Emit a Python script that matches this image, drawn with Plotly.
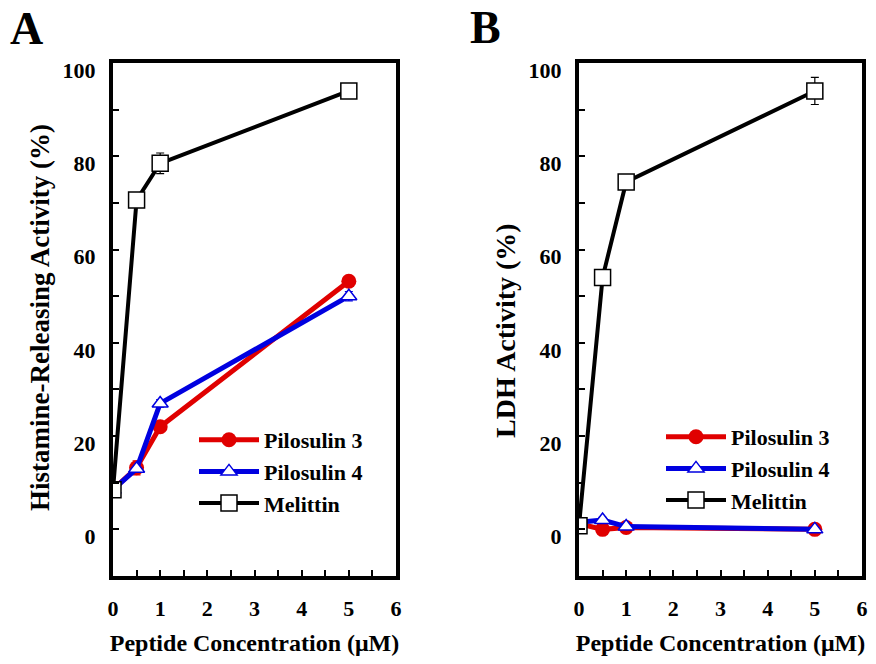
import plotly.graph_objects as go
from plotly.subplots import make_subplots

# ---- data ----
conc = [0, 0.5, 1, 5]

# Panel A: Histamine-releasing activity (%)
hist_pilo3 = [8.5, 13.2, 22.0, 53.2]
hist_pilo3_err = [0, 1.5, 0, 0]
hist_pilo4 = [8.5, 13.0, 27.0, 50.0]
hist_pilo4_err = [0, 0, 0.8, 1.0]
hist_mel = [8.5, 70.6, 78.5, 94.0]
hist_mel_err = [0, 0, 2.2, 0]

# Panel B: LDH activity (%)
ldh_pilo3 = [1.2, 0.0, 0.4, 0.0]
ldh_pilo3_err = [0, 0, 0, 0]
ldh_pilo4 = [1.5, 2.0, 0.6, 0.0]
ldh_pilo4_err = [0, 0.6, 0, 0]
ldh_mel = [0.8, 54.0, 74.5, 94.0]
ldh_mel_err = [0, 0, 0, 2.9]

series_names = ["Pilosulin 3", "Pilosulin 4", "Melittin"]
x_ticks = [0, 1, 2, 3, 4, 5, 6]
y_ticks = [0, 20, 40, 60, 80, 100]
panel_labels = ["A", "B"]
y_titles = ["Histamine-Releasing Activity (%)", "LDH Activity (%)"]
x_title = "Peptide Concentration (\u03bcM)"

FONT = "Liberation Serif"
RED = "#e00000"
BLUE = "#0000e0"
BLACK = "#000000"

W, H = 868, 656  # page body has an 8px margin inside the 876x664 window

fig = make_subplots(rows=1, cols=2)

styles = [
    dict(color=RED, symbol="circle", size=15, lw=5),
    dict(color=BLUE, symbol="triangle", size=14, lw=5),
    dict(color=BLACK, symbol="square", size=16, lw=4),
]

panels = [
    [(hist_pilo3, hist_pilo3_err), (hist_pilo4, hist_pilo4_err), (hist_mel, hist_mel_err)],
    [(ldh_pilo3, ldh_pilo3_err), (ldh_pilo4, ldh_pilo4_err), (ldh_mel, ldh_mel_err)],
]

for p, data in enumerate(panels):
    for s, (vals, errs) in enumerate(data):
        st = styles[s]
        if st["symbol"] == "square":
            marker = dict(symbol="square", size=st["size"], color="white",
                          line=dict(color=BLACK, width=1.5))
        elif st["symbol"] == "circle":
            marker = dict(symbol="circle", size=st["size"], color=RED,
                          line=dict(color=RED, width=0))
        else:
            marker = dict(symbol="triangle-up", size=st["size"], color="white",
                          line=dict(color=BLUE, width=1.5))
        fig.add_trace(
            go.Scatter(
                x=conc, y=vals, mode="lines+markers", name=series_names[s],
                line=dict(color=st["color"], width=st["lw"]),
                marker=marker,
                error_y=dict(type="data", array=errs, visible=True,
                             color=st["color"], thickness=1.2, width=4),
                showlegend=True,
                legend="legend" if p == 0 else "legend2",
            ),
            row=1, col=p + 1,
        )

legend_common = dict(
    bgcolor="rgba(0,0,0,0)", borderwidth=0,
    font=dict(family=FONT, size=22, color="black"),
    itemwidth=60, tracegroupgap=0,
    xanchor="left", yanchor="top",
)
fig.update_layout(
    legend=dict(x=186 / W, y=1 - 411 / H, **legend_common),
    legend2=dict(x=653 / W, y=1 - 408 / H, **legend_common),
)

axis_common = dict(
    showgrid=False, zeroline=False, automargin=False,
    showline=True, linecolor="black", linewidth=4, mirror=True,
    ticks="inside", tickcolor="black", tickwidth=1.5,
    tickfont=dict(family=FONT, size=22, color="black"),
)

x_domains = [[105 / W, 388 / W], [571 / W, 854 / W]]
y_domain = [1 - 568 / H, 1 - 55 / H]

for i in range(2):
    fig.update_xaxes(
        range=[0, 6], tickvals=x_ticks, ticklen=6,
        minor=dict(dtick=0.5, ticklen=6, ticks="inside", tickcolor="black", tickwidth=1.5),
        domain=x_domains[i], ticklabelstandoff=10,
        title=dict(text=x_title, font=dict(family=FONT, size=24, color="black"), standoff=15),
        row=1, col=i + 1, **axis_common,
    )
    fig.update_yaxes(
        range=[-10, 100], tickvals=y_ticks, ticklen=6,
        minor=dict(dtick=10, ticklen=6, ticks="inside", tickcolor="black", tickwidth=1.5),
        domain=y_domain, ticklabelstandoff=9, ticklabelshift=7,
        row=1, col=i + 1, **axis_common,
    )

# y-axis titles (placed as in the reference, slightly off-centre)
ytitle_pos = [(32, 310, 27), (497, 323, 28)]
for i in range(2):
    xc, yc, fs = ytitle_pos[i]
    fig.add_annotation(text=y_titles[i], x=xc / W, y=1 - yc / H, xref="paper", yref="paper",
                       xanchor="center", yanchor="middle", textangle=-90, showarrow=False,
                       font=dict(family=FONT, size=fs, color="black"))

fig.add_annotation(text="<b>A</b>", x=0 / W, y=1 + 7 / H, xref="paper", yref="paper",
                   xanchor="left", yanchor="top", showarrow=False,
                   font=dict(family=FONT, size=46, color="black"))
fig.add_annotation(text="<b>B</b>", x=460 / W, y=1 + 8 / H, xref="paper", yref="paper",
                   xanchor="left", yanchor="top", showarrow=False,
                   font=dict(family=FONT, size=46, color="black"))

fig.update_layout(
    width=W, height=H,
    margin=dict(l=0, r=0, t=0, b=0),
    paper_bgcolor="white", plot_bgcolor="white",
    font=dict(family=FONT, size=22, color="black", weight="bold"),
)

fig.write_html("out.html")
